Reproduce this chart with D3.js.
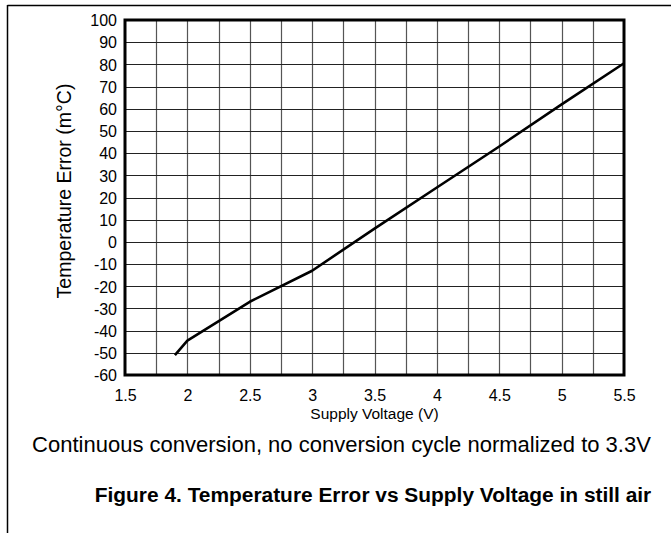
<!DOCTYPE html>
<html>
<head>
<meta charset="utf-8">
<script src="https://cdn.jsdelivr.net/npm/d3@7"></script>
<style>
  html, body { margin: 0; padding: 0; background: #fff; }
  svg { display: block; font-family: "Liberation Sans", Arial, sans-serif; }
</style>
</head>
<body>
<svg id="chart" width="671" height="533"></svg>
<script>
// Data
const supplyVoltage = [1.9, 2.0, 2.5, 3.0, 3.5, 4.0, 4.5, 5.0, 5.5];
const tempError     = [-51, -44.5, -27, -13, 6, 24.5, 43, 62, 80.5];
const xTickValues = [1.5, 2, 2.5, 3, 3.5, 4, 4.5, 5, 5.5];
const xTickLabels = ["1.5", "2", "2.5", "3", "3.5", "4", "4.5", "5", "5.5"];
const yTickValues = [-60, -50, -40, -30, -20, -10, 0, 10, 20, 30, 40, 50, 60, 70, 80, 90, 100];
const xGridValues = [1.75, 2, 2.25, 2.5, 2.75, 3, 3.25, 3.5, 3.75, 4, 4.25, 4.5, 4.75, 5, 5.25];
const xTitle = "Supply Voltage (V)";
const yTitle = "Temperature Error (m\u00B0C)";
const noteText = "Continuous conversion, no conversion cycle normalized to 3.3V";
const captionText = "Figure 4. Temperature Error vs Supply Voltage in still air";

const svg = d3.select("#chart");
const L = 125, R = 624, T = 20, B = 375;
const font = "'Liberation Sans', Arial, sans-serif";

const x = d3.scaleLinear().domain([1.5, 5.5]).range([L, R]);
const y = d3.scaleLinear().domain([-60, 100]).range([B, T]);

// page border lines (document frame)
svg.append("line").attr("x1", 7.5).attr("x2", 671).attr("y1", 5.5).attr("y2", 5.5)
  .attr("stroke", "#000").attr("stroke-width", 1.5);
svg.append("line").attr("x1", 7.5).attr("x2", 7.5).attr("y1", 5).attr("y2", 533)
  .attr("stroke", "#000").attr("stroke-width", 1.5);

// grid
const g = svg.append("g");
g.selectAll("line.vg").data(xGridValues).enter().append("line")
  .attr("class", "vg")
  .attr("x1", d => Math.round(x(d)) + 0.5).attr("x2", d => Math.round(x(d)) + 0.5)
  .attr("y1", T).attr("y2", B)
  .attr("stroke", "#555").attr("stroke-width", 1.2);
g.selectAll("line.hg").data(yTickValues.slice(1, -1)).enter().append("line")
  .attr("class", "hg")
  .attr("x1", L).attr("x2", R)
  .attr("y1", d => Math.round(y(d)) + 0.5).attr("y2", d => Math.round(y(d)) + 0.5)
  .attr("stroke", "#222").attr("stroke-width", 1.2);

// y axis tick labels
const yAxis = d3.axisLeft(y).tickValues(yTickValues).tickSize(0).tickPadding(8)
  .tickFormat(d => String(d));
const ya = svg.append("g").attr("transform", `translate(${L},0)`).call(yAxis);
ya.select(".domain").remove();
ya.attr("font-size", null).attr("font-family", null);
ya.selectAll("text").style("font-size", "16px").attr("fill", "#000")
  .style("font-family", font).attr("dy", "0.36em");

// x axis tick labels
const xAxis = d3.axisBottom(x).tickValues(xTickValues).tickSize(0).tickPadding(14)
  .tickFormat((d, i) => xTickLabels[i]);
const xa = svg.append("g").attr("transform", `translate(0,${B})`).call(xAxis);
xa.select(".domain").remove();
xa.attr("font-size", null).attr("font-family", null);
xa.selectAll("text").style("font-size", "16px").attr("fill", "#000")
  .style("font-family", font).attr("dy", "0.72em");

// frame
svg.append("rect").attr("x", L).attr("y", T).attr("width", R - L).attr("height", B - T)
  .attr("fill", "none").attr("stroke", "#000").attr("stroke-width", 3);

// data line
const line = d3.line().x(d => x(d[0])).y(d => y(d[1]));
svg.append("path")
  .datum(supplyVoltage.map((v, i) => [v, tempError[i]]))
  .attr("d", line)
  .attr("fill", "none").attr("stroke", "#000").attr("stroke-width", 2.6)
  .attr("stroke-linejoin", "round");

// titles
svg.append("text").attr("x", (L + R) / 2).attr("y", 419).attr("text-anchor", "middle")
  .style("font-size", "15.5px").style("font-family", font).text(xTitle);
svg.append("text").attr("transform", `translate(71,191) rotate(-90)`)
  .attr("text-anchor", "middle").style("font-size", "19.5px").style("font-family", font).text(yTitle);
svg.append("text").attr("x", 341.5).attr("y", 452).attr("text-anchor", "middle")
  .style("font-size", "22px").style("font-family", font).text(noteText);
svg.append("text").attr("x", 373).attr("y", 502).attr("text-anchor", "middle")
  .style("font-size", "20.9px").style("font-weight", "bold").style("font-family", font).text(captionText);
</script>
</body>
</html>
